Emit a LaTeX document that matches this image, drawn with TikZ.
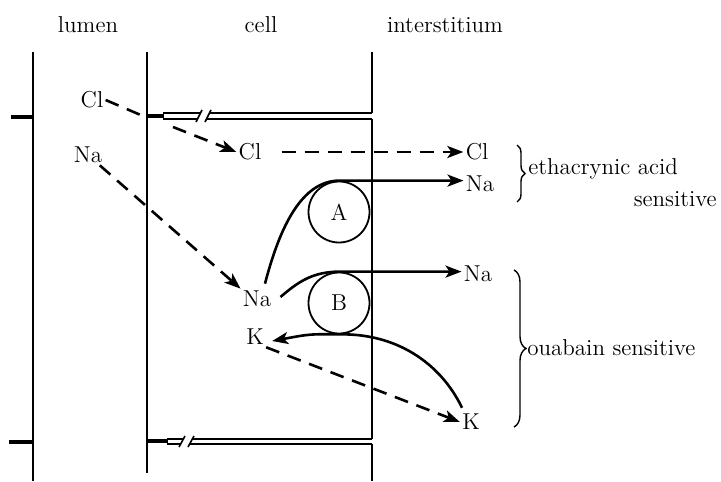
\documentclass[tikz,border=0pt]{standalone}
\usepackage{tikz}
\usetikzlibrary{arrows.meta,positioning,calc,decorations.pathreplacing}
\tikzset{
  mem/.style  = {line width=1pt},
  stub/.style = {line width=2.2pt},
  tj/.style   = {line width=0.8pt},
  ion/.style  = {inner sep=1pt, font=\fontsize{11.5}{14}\selectfont},
  hd/.style   = {ion, anchor=base},
  pump/.style = {circle, draw, line width=0.9pt, minimum size=30.5pt,
                 inner sep=0pt, font=\fontsize{11.5}{14}\selectfont},
  act/.style  = {-{Stealth[length=8pt,width=6pt,inset=2pt]}, line width=1.3pt},
  pas/.style  = {-{Stealth[length=8pt,width=6pt,inset=2pt]}, line width=1.3pt,
                 dash pattern=on 7pt off 4.5pt},
  brc/.style  = {decorate, decoration={brace, amplitude=#1}, line width=0.7pt},
}

\begin{document}
\begin{tikzpicture}[x=0.5pt,y=-0.5pt]
  \useasboundingbox (0,0) rectangle (721,481);

  % --- headings
  \node[hd] (hlum) at (88,33)  {lumen};
  \node[hd] (hcel) at (261,33) {cell};
  \node[hd] (hint) at (445,33) {interstitium};

  % --- membranes
  \draw[mem] (33,52) -- (33,481);
  \draw[mem] (147,52) -- (147,473);
  \draw[mem] (372,52) -- (372,113);
  \draw[stub] (11,117) -- (33,117);
  \draw[stub] (9,442) -- (33,442);

  % --- tight junction, top
  \draw[stub] (147,116) -- (164,116);
  \draw[tj] (163,113) -- (201,113);
  \draw[tj] (163,119) -- (198,119);
  \draw[tj] (196,122) -- (202,110);
  \draw[tj] (205,122) -- (211,110);
  \draw[tj] (210,113) -- (372,113);
  \draw[tj] (207,119) -- (372,119);
  \draw[mem] (372,119) -- (372,439);

  % --- tight junction, bottom
  \draw[stub] (147,441) -- (168,441);
  \draw[tj] (167,439) -- (184,439);
  \draw[tj] (167,444) -- (181,444);
  \draw[tj] (179,447) -- (185,436);
  \draw[tj] (188,447) -- (194,436);
  \draw[tj] (193,439) -- (372,439);
  \draw[tj] (190,444) -- (372,444);
  \draw[mem] (372,444) -- (372,481);

  % --- ions
  \node[ion] (clL) at (92,100)  {Cl};
  \node[ion] (naL) at (88,155)  {Na};
  \node[ion] (clC) at (250,152) {Cl};
  \node[ion] (naC) at (257,299) {Na};
  \node[ion] (kC)  at (255,337) {K};
  \node[ion] (clI) at (477,152) {Cl};
  \node[ion] (naI) at (480,184) {Na};
  \node[ion] (naJ) at (478,274) {Na};
  \node[ion] (kI)  at (471,422) {K};

  % --- pumps
  \node[pump] (pA) at (339,212) {A};
  \node[pump] (pB) at (339,303) {B};

  % --- passive fluxes
  \coordinate (jcl) at (143,116);
  \coordinate (jcr) at (173,127);
  \draw[pas, -] (clL.east) -- (jcl);
  \draw[pas] (jcr) -- (clC.west);
  \draw[pas, shorten <=9pt] (clC) -- (clI);
  \draw[pas] (naL) -- (naC.north west);
  \draw[pas] (kC.south east) -- (kI.west);

  % --- pumped fluxes
  \draw[act] ($(naC.north)+(8,-5)$) .. controls (280,226) and (302,181)
    .. (pA.north) -- (pA.north -| naI.west);
  \draw[act] ($(naC.east)+(7,-2)$) .. controls (298,282) and (312,272)
    .. (pB.north) -- (pB.north -| naJ.west);
  \draw[act] ($(kI.north)+(-9,-4)$) .. controls (440,362) and (395,333)
    .. (pB.south) .. controls (310,334) .. ($(kC.east)+(6,4)$);

  % --- sensitivity brackets
  \draw[brc=4pt] (517,145) -- (517,202);
  \node[ion, anchor=west] (eth) at (526,169) {ethacrynic acid};
  \node[ion, anchor=east] (ethS) at (719,199) {sensitive};
  \draw[brc=6pt] (514,270) -- (514,427);
  \node[ion, anchor=west] (oua) at (525,348) {ouabain sensitive};
\end{tikzpicture}
\end{document}
